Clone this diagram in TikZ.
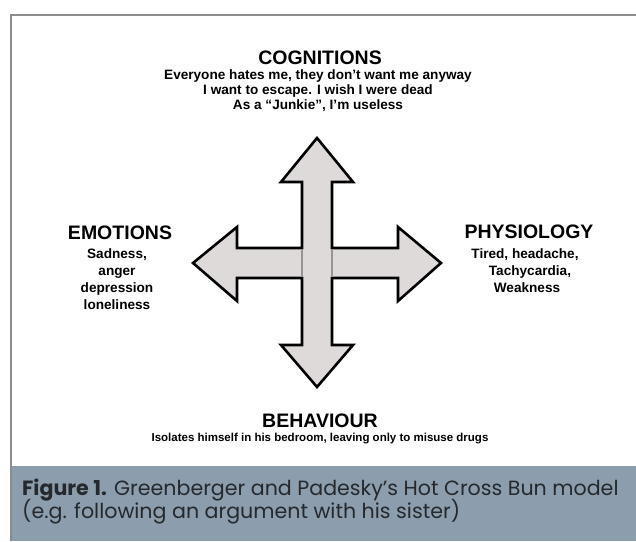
\documentclass[tikz,border=0pt]{standalone}
\usepackage{fontspec}
\setmainfont{Liberation Sans}
\newfontfamily\capfont{Poppins}
\definecolor{framegray}{HTML}{8C8C8C}
\definecolor{bandblue}{HTML}{8C9EAD}
\definecolor{crossfill}{HTML}{DEDADA}
\definecolor{innergray}{HTML}{9A9393}
\definecolor{captext}{HTML}{25292D}
\tikzset{
  head/.style={inner sep=0pt, anchor=base, font=\bfseries\fontsize{19.5}{20}\selectfont},
  body/.style={inner sep=0pt, anchor=base, font=\bfseries\fontsize{13.6}{14}\selectfont},
  smallbody/.style={inner sep=0pt, anchor=base, font=\bfseries\fontsize{11.5}{12}\selectfont},
  captxt/.style={inner sep=0pt, anchor=base west, text=captext, font=\capfont\fontsize{20.6}{21}\selectfont},
}
\begin{document}
\begin{tikzpicture}[x=1pt,y=-1pt]
\useasboundingbox (0,0) rectangle (636,541);
\fill[white] (0,0) rectangle (636,541);
% frame
\draw[framegray, line width=2pt] (10.5,541) -- (10.5,14.5) -- (636,14.5);
% caption band
\fill[bandblue] (11.5,466) rectangle (636,541);
% cross
\draw[black, line width=2.6pt, line join=miter, fill=crossfill]
 (317,138) -- (353,182) -- (332,182) -- (332,248) -- (398,248) -- (398,227)
 -- (441,263) -- (398,301) -- (398,278) -- (332,278) -- (332,345) -- (353,345)
 -- (317,387) -- (281,345) -- (302,345) -- (302,278) -- (237,278) -- (237,301)
 -- (193,263) -- (237,227) -- (237,248) -- (302,248) -- (302,182) -- (281,182) -- cycle;
\draw[innergray, line width=2.6pt] (302,249.3) -- (302,276.7);
\draw[innergray, line width=2.6pt] (332,249.3) -- (332,276.7);
% cognitions
\node[head] (cogh) at (320,64) {COGNITIONS};
\node[body] (cog1) at (318,79) {Everyone hates me, they don’t want me anyway};
\node[body] (cog2) at (318,94) {I want to escape. I wish I were dead};
\node[body] (cog3) at (318,109) {As a “Junkie”, I’m useless};
% emotions
\node[head] (emoh) at (120,239) {EMOTIONS};
\node[body] (emo1) at (117,258) {Sadness,};
\node[body] (emo2) at (117,275) {anger};
\node[body] (emo3) at (117,292) {depression};
\node[body] (emo4) at (117,309) {loneliness};
% physiology
\node[head] (phyh) at (529,238) {PHYSIOLOGY};
\node[body] (phy1) at (525,258) {Tired, headache,};
\node[body] (phy2) at (530,275) {Tachycardia,};
\node[body] (phy3) at (527,292) {Weakness};
% behaviour
\node[head] (behh) at (320,427) {BEHAVIOUR};
\node[smallbody] (beh1) at (320,441) {Isolates himself in his bedroom, leaving only to misuse drugs};
% caption
\node[captxt] (cap1) at (22,495) {\textbf{Figure 1.} Greenberger and Padesky’s Hot Cross Bun model};
\node[captxt] (cap2) at (22,518) {(e.g. following an argument with his sister)};
\end{tikzpicture}
\end{document}
